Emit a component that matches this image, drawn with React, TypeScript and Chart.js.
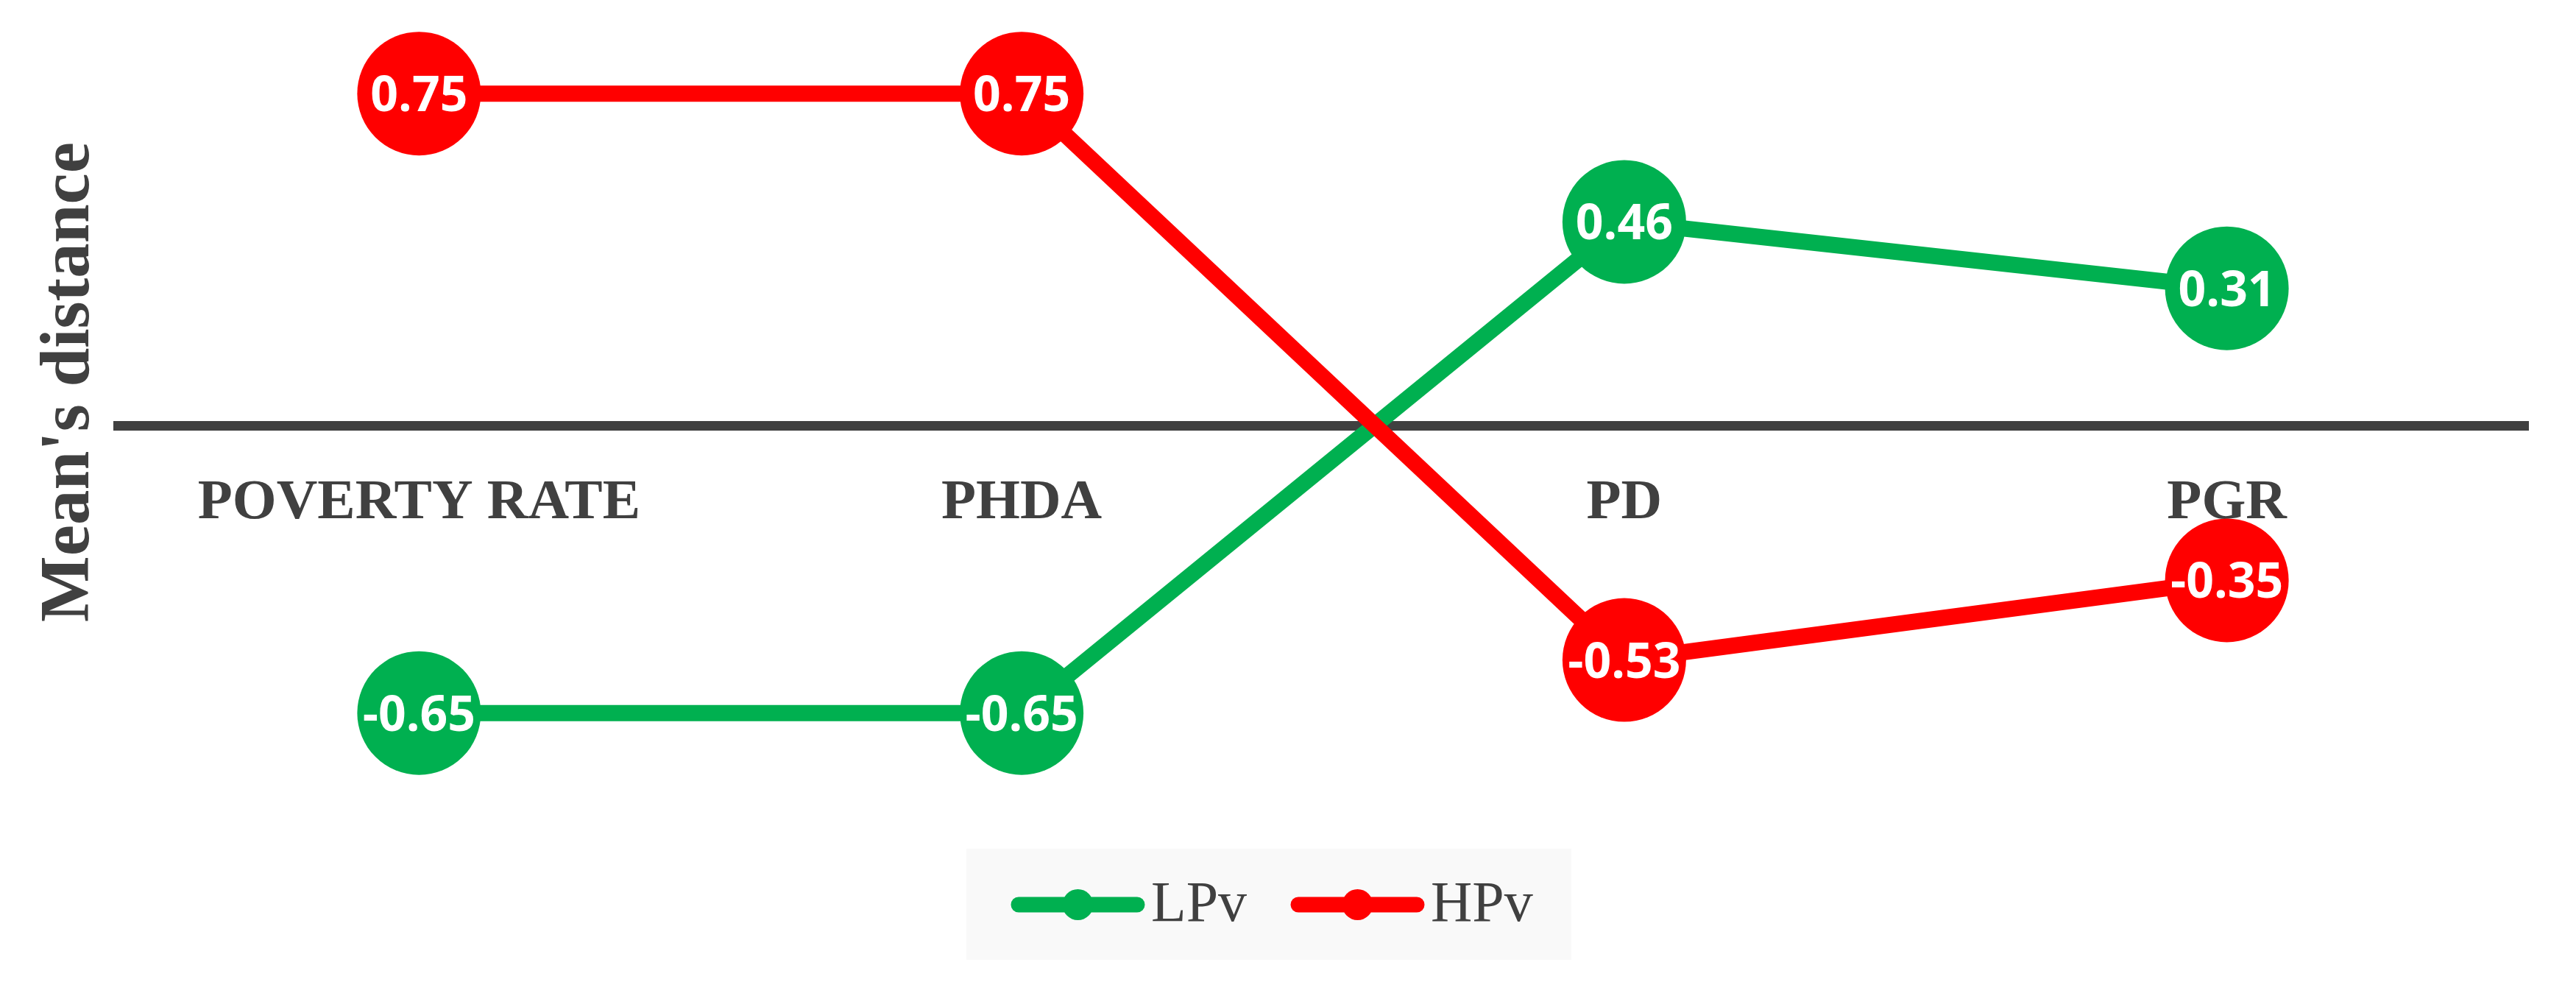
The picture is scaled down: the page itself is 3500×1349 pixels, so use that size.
import React, { useEffect, useRef } from "react";
import { Chart, registerables } from "chart.js";

Chart.register(...registerables);

const categories = ["POVERTY RATE", "PHDA", "PD", "PGR"];
const lpvValues = [-0.65, -0.65, 0.46, 0.31];
const hpvValues = [0.75, 0.75, -0.53, -0.35];
const seriesNames = ["LPv", "HPv"];
const seriesColors = ["#00B050", "#FF0000"];
const yAxisTitle = "Mean's distance";
const yMin = -0.9;
const yMax = 0.9;

const TEXT_COLOR = "#404040";

const valueLabelPlugin = {
  id: "valueLabels",
  afterDatasetsDraw(chart: any) {
    const ctx = chart.ctx;
    ctx.save();
    ctx.font = "bold 66px 'Open Sans'";
    ctx.fillStyle = "#FFFFFF";
    ctx.textAlign = "center";
    ctx.textBaseline = "alphabetic";
    chart.data.datasets.forEach((ds: any, di: number) => {
      const meta = chart.getDatasetMeta(di);
      meta.data.forEach((el: any, i: number) => {
        const v = ds.data[i] as number;
        ctx.fillText(v.toFixed(2), el.x, el.y + 24);
      });
    });
    ctx.restore();
  },
};

const titleAndLegendPlugin = {
  id: "titleAndLegend",
  afterDraw(chart: any) {
    const ctx = chart.ctx;
    // Y axis title
    ctx.save();
    ctx.translate(120, 519);
    ctx.rotate(-Math.PI / 2);
    ctx.font = "bold 95px 'Liberation Serif'";
    ctx.fillStyle = TEXT_COLOR;
    ctx.textAlign = "center";
    ctx.textBaseline = "alphabetic";
    ctx.fillText(yAxisTitle, 0, 0);
    ctx.restore();

    // Legend
    const boxX = 1313;
    const boxY = 1153;
    const boxW = 822;
    const boxH = 151;
    ctx.save();
    ctx.fillStyle = "#F9F9F9";
    ctx.fillRect(boxX, boxY, boxW, boxH);
    ctx.font = "78px 'Liberation Serif'";
    const lineLen = 181;
    const gap = 9;
    const itemGap = 60;
    const cy = 1229;
    let x = boxX + 61;
    chart.data.datasets.forEach((ds: any) => {
      const color = ds.borderColor as string;
      ctx.strokeStyle = color;
      ctx.lineWidth = 21;
      ctx.lineCap = "round";
      ctx.beginPath();
      ctx.moveTo(x + 10, cy);
      ctx.lineTo(x + lineLen - 10, cy);
      ctx.stroke();
      ctx.fillStyle = color;
      ctx.beginPath();
      ctx.arc(x + lineLen / 2, cy, 21, 0, Math.PI * 2);
      ctx.fill();
      x += lineLen + gap;
      ctx.fillStyle = TEXT_COLOR;
      ctx.textAlign = "left";
      ctx.textBaseline = "alphabetic";
      ctx.fillText(ds.label, x, 1251);
      x += ctx.measureText(ds.label).width + itemGap;
    });
    ctx.restore();
  },
};

export default function App() {
  const canvasRef = useRef<HTMLCanvasElement | null>(null);

  useEffect(() => {
    document.body.style.margin = "0";
    const canvas = canvasRef.current;
    if (!canvas) return;
    const chart = new Chart(canvas, {
      type: "line",
      data: {
        labels: categories,
        datasets: [
          {
            label: seriesNames[0],
            data: lpvValues,
            borderColor: seriesColors[0],
            backgroundColor: seriesColors[0],
            pointBackgroundColor: seriesColors[0],
            pointBorderWidth: 0,
            pointRadius: 84,
            borderWidth: 22,
            order: 2,
            clip: false as any,
          },
          {
            label: seriesNames[1],
            data: hpvValues,
            borderColor: seriesColors[1],
            backgroundColor: seriesColors[1],
            pointBackgroundColor: seriesColors[1],
            pointBorderWidth: 0,
            pointRadius: 84,
            borderWidth: 22,
            order: 1,
            clip: false as any,
          },
        ],
      },
      options: {
        responsive: false,
        maintainAspectRatio: false,
        animation: false,
        devicePixelRatio: 1,
        events: [],
        layout: {
          autoPadding: false,
          padding: { left: 160, right: 65, top: 37, bottom: 230 },
        },
        plugins: {
          legend: { display: false },
          tooltip: { enabled: false },
          title: { display: false },
        },
        scales: {
          x: {
            type: "category",
            offset: true,
            position: { y: 0 } as any,
            grid: { display: false, drawTicks: false },
            border: { display: true, color: TEXT_COLOR, width: 13 },
            ticks: {
              color: TEXT_COLOR,
              font: { family: "'Liberation Serif'", size: 77, weight: "bold", lineHeight: 1.2 },
              padding: 60,
              maxRotation: 0,
              autoSkip: false,
            },
          },
          y: {
            display: false,
            min: yMin,
            max: yMax,
          },
        },
      },
      plugins: [valueLabelPlugin, titleAndLegendPlugin],
    });
    return () => chart.destroy();
  }, []);

  return (
    <div style={{ width: 3500, height: 1349, background: "#FFFFFF" }}>
      <canvas ref={canvasRef} width={3500} height={1349} style={{ display: "block" }} />
    </div>
  );
}
